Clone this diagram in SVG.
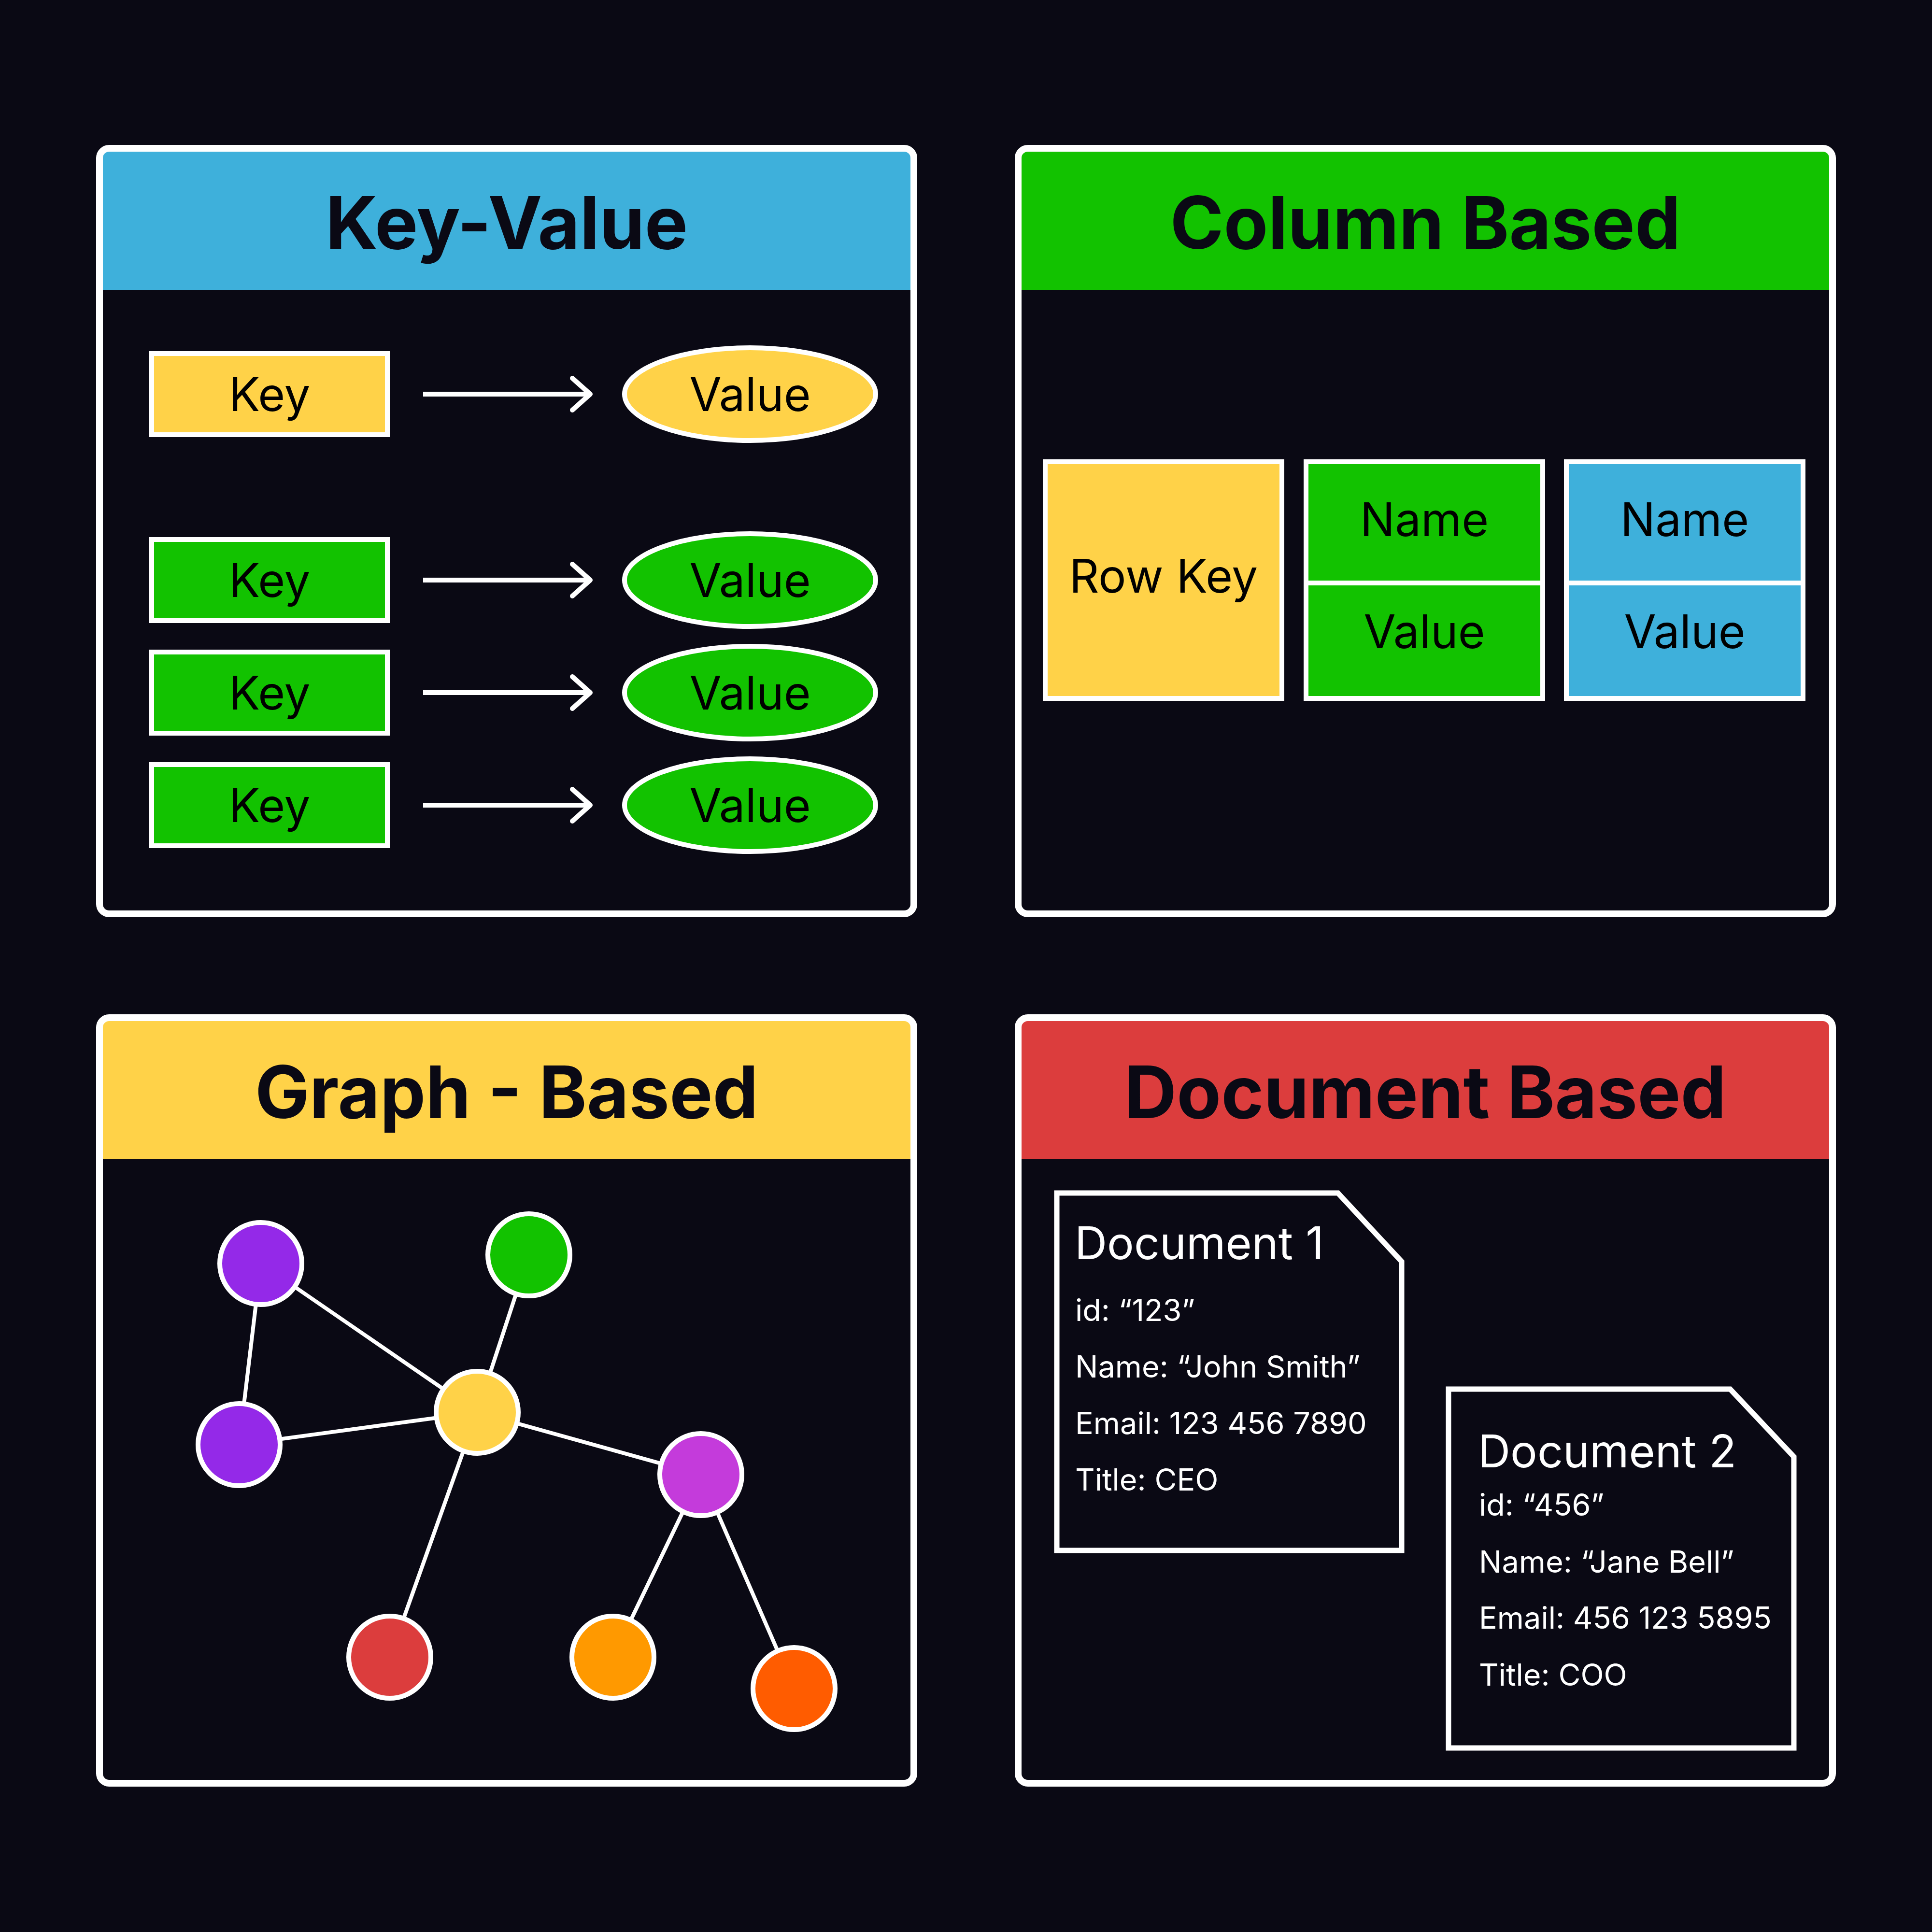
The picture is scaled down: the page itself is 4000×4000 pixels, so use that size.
<svg xmlns="http://www.w3.org/2000/svg" width="4000" height="4000" viewBox="0 0 4000 4000">
<defs>
<style>
.bg{fill:#0A0914}
.frame{fill:none;stroke:#FFFFFF;stroke-width:14}
.title{font-family:Inter,"Noto Sans","Liberation Sans",sans-serif;font-weight:700;font-size:150px;fill:#0A0914;text-anchor:middle}
.box{stroke:#FFFFFF;stroke-width:10}
.lbl{font-family:Inter,"Noto Sans","Liberation Sans",sans-serif;font-size:96px;fill:#000000;text-anchor:middle}
.arrow{fill:none;stroke:#FFFFFF;stroke-width:10}
.edge{stroke:#FFFFFF;stroke-width:8}
.node{stroke:#FFFFFF;stroke-width:10}
.doc{fill:#0A0914;stroke:#FFFFFF;stroke-width:11;stroke-linejoin:miter}
.dh{font-family:Inter,"Noto Sans","Liberation Sans",sans-serif;font-size:93px;fill:#FFFFFF}
.dt{font-family:Inter,"Noto Sans","Liberation Sans",sans-serif;font-size:63px;fill:#FFFFFF}
.yellow{fill:#FFD248}
.green{fill:#12C200}
.blue{fill:#3EB0DB}
.red{fill:#DC3D3D}
</style>
<marker id="chev" markerUnits="userSpaceOnUse" viewBox="-60 -60 120 120" markerWidth="120" markerHeight="120" refX="0" refY="0" orient="auto" overflow="visible">
<path d="M-37,-33 L0,0 L-37,33" fill="none" stroke="#FFFFFF" stroke-width="10" stroke-linecap="round" stroke-linejoin="round"/>
</marker>
</defs>
<rect class="bg" x="0" y="0" width="4000" height="4000"/>

<!-- Panel: Key-Value -->
<g id="panel-key-value">
<rect class="bg" x="206" y="307" width="1686" height="1585" rx="20"/>
<rect class="blue" x="213" y="314" width="1672" height="286"/>
<rect class="frame" x="206" y="307" width="1686" height="1585" rx="20"/>
<text class="title" x="1049" y="515">Key-Value</text>
</g>
<g id="kv-key-1"><rect class="box yellow" x="314" y="732" width="488" height="168"/><text class="lbl" x="558" y="851">Key</text></g>
<g id="kv-value-1"><ellipse class="box yellow" cx="1553" cy="816" rx="260" ry="96"/><text class="lbl" x="1553" y="851">Value</text></g>
<g id="kv-key-2"><rect class="box green" x="314" y="1117" width="488" height="168"/><text class="lbl" x="558" y="1236">Key</text></g>
<g id="kv-value-2"><ellipse class="box green" cx="1553" cy="1201" rx="260" ry="96"/><text class="lbl" x="1553" y="1236">Value</text></g>
<g id="kv-key-3"><rect class="box green" x="314" y="1350" width="488" height="168"/><text class="lbl" x="558" y="1469">Key</text></g>
<g id="kv-value-3"><ellipse class="box green" cx="1553" cy="1434" rx="260" ry="96"/><text class="lbl" x="1553" y="1469">Value</text></g>
<g id="kv-key-4"><rect class="box green" x="314" y="1583" width="488" height="168"/><text class="lbl" x="558" y="1702">Key</text></g>
<g id="kv-value-4"><ellipse class="box green" cx="1553" cy="1667" rx="260" ry="96"/><text class="lbl" x="1553" y="1702">Value</text></g>

<!-- Panel: Column Based -->
<g id="panel-column">
<rect class="bg" x="2108" y="307" width="1686" height="1585" rx="20"/>
<rect class="green" x="2115" y="314" width="1672" height="286"/>
<rect class="frame" x="2108" y="307" width="1686" height="1585" rx="20"/>
<text class="title" x="2951" y="515">Column Based</text>
</g>
<g id="col-rowkey"><rect class="box yellow" x="2164" y="956" width="490" height="490"/><text class="lbl" x="2409" y="1227">Row Key</text></g>
<g id="col-1">
<rect class="box green" x="2704" y="956" width="490" height="251"/><text class="lbl" x="2949" y="1110">Name</text>
<rect class="box green" x="2704" y="1207" width="490" height="239"/><text class="lbl" x="2949" y="1342">Value</text>
</g>
<g id="col-2">
<rect class="box blue" x="3243" y="956" width="490" height="251"/><text class="lbl" x="3488" y="1110">Name</text>
<rect class="box blue" x="3243" y="1207" width="490" height="239"/><text class="lbl" x="3488" y="1342">Value</text>
</g>

<!-- Panel: Graph - Based -->
<g id="panel-graph">
<rect class="bg" x="206" y="2107" width="1686" height="1585" rx="20"/>
<rect class="yellow" x="213" y="2114" width="1672" height="286"/>
<rect class="frame" x="206" y="2107" width="1686" height="1585" rx="20"/>
<text class="title" x="1049" y="2315">Graph - Based</text>
</g>

<!-- Panel: Document Based -->
<g id="panel-document">
<rect class="bg" x="2108" y="2107" width="1686" height="1585" rx="20"/>
<rect class="red" x="2115" y="2114" width="1672" height="286"/>
<rect class="frame" x="2108" y="2107" width="1686" height="1585" rx="20"/>
<text class="title" x="2951" y="2315">Document Based</text>
</g>

<!-- Connectors -->
<g id="connectors">
<line class="arrow" x1="876" y1="816" x2="1222" y2="816" marker-end="url(#chev)"/>
<line class="arrow" x1="876" y1="1201" x2="1222" y2="1201" marker-end="url(#chev)"/>
<line class="arrow" x1="876" y1="1434" x2="1222" y2="1434" marker-end="url(#chev)"/>
<line class="arrow" x1="876" y1="1667" x2="1222" y2="1667" marker-end="url(#chev)"/>
<line class="edge" x1="540" y1="2616" x2="495" y2="2991"/>
<line class="edge" x1="540" y1="2616" x2="988" y2="2924"/>
<line class="edge" x1="1095" y1="2598" x2="988" y2="2924"/>
<line class="edge" x1="495" y1="2991" x2="988" y2="2924"/>
<line class="edge" x1="988" y1="2924" x2="1451" y2="3053"/>
<line class="edge" x1="988" y1="2924" x2="807" y2="3431"/>
<line class="edge" x1="1451" y1="3053" x2="1269" y2="3431"/>
<line class="edge" x1="1451" y1="3053" x2="1644" y2="3496"/>
</g>

<g id="g-node-purple-1"><circle class="node" cx="540" cy="2616" r="85" fill="#9429E8"/></g>
<g id="g-node-green"><circle class="node" cx="1095" cy="2598" r="85" fill="#12C200"/></g>
<g id="g-node-purple-2"><circle class="node" cx="495" cy="2991" r="85" fill="#9429E8"/></g>
<g id="g-node-yellow"><circle class="node" cx="988" cy="2924" r="85" fill="#FFD248"/></g>
<g id="g-node-magenta"><circle class="node" cx="1451" cy="3053" r="85" fill="#C43BDB"/></g>
<g id="g-node-red"><circle class="node" cx="807" cy="3431" r="85" fill="#DC3D3D"/></g>
<g id="g-node-orange"><circle class="node" cx="1269" cy="3431" r="85" fill="#FF9900"/></g>
<g id="g-node-orangered"><circle class="node" cx="1644" cy="3496" r="85" fill="#FF5C00"/></g>

<g id="doc-1">
<path class="doc" d="M2188,2470 L2770,2470 L2902,2612 L2902,3210 L2188,3210 Z"/>
<text class="dh" x="2225" y="2607">Document 1</text>
<text class="dt" x="2226" y="2735">id: “123”</text>
<text class="dt" x="2226" y="2852">Name: “John Smith”</text>
<text class="dt" x="2226" y="2969">Email: 123 456 7890</text>
<text class="dt" x="2226" y="3086">Title: CEO</text>
</g>
<g id="doc-2">
<path class="doc" d="M2999,2876 L3582,2876 L3714,3016 L3714,3619 L2999,3619 Z"/>
<text class="dh" x="3060" y="3038">Document 2</text>
<text class="dt" x="3062" y="3138">id: “456”</text>
<text class="dt" x="3062" y="3256">Name: “Jane Bell”</text>
<text class="dt" x="3062" y="3372">Email: 456 123 5895</text>
<text class="dt" x="3062" y="3490">Title: COO</text>
</g>
</svg>
